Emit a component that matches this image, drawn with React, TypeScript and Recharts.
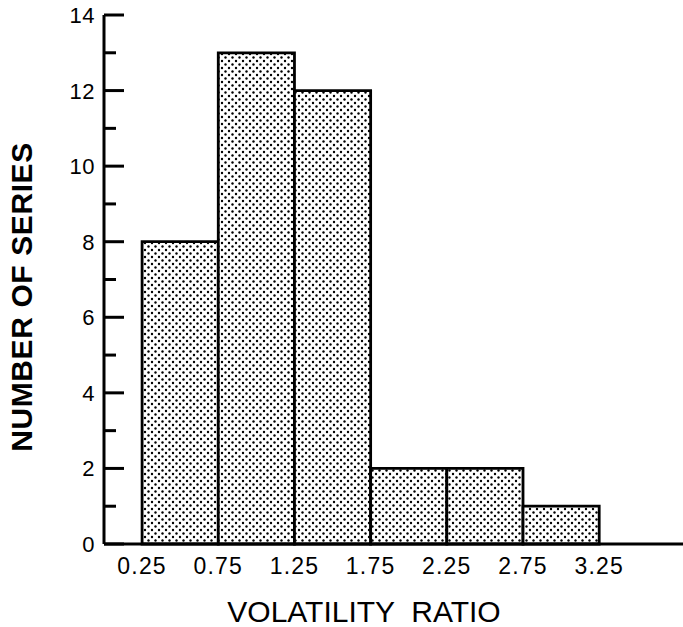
import { ComposedChart, XAxis, YAxis, ReferenceArea, Scatter } from 'recharts'

const binStarts = [0.25, 0.75, 1.25, 1.75, 2.25, 2.75]
const binEnds = [0.75, 1.25, 1.75, 2.25, 2.75, 3.25]
const seriesCounts = [8, 13, 12, 2, 2, 1]
const xTicks = [0.25, 0.75, 1.25, 1.75, 2.25, 2.75, 3.25]
const yTicks = [0, 1, 2, 3, 4, 5, 6, 7, 8, 9, 10, 11, 12, 13, 14]

const font = '"Liberation Sans", Arial, sans-serif'
const data = binStarts.map((x, i) => ({ x, count: seriesCounts[i] }))

function YTick(props: any) {
  const { x, y, payload } = props
  const major = payload.value % 2 === 0
  return (
    <g>
      <line x1={x} x2={x + (major ? 20 : 12)} y1={y} y2={y} stroke="#000" strokeWidth={3} />
      {major && (
        <text x={x - 9} y={y} dy={8} textAnchor="end" fontSize={22} fontFamily={font} fill="#000" letterSpacing={0.5}>
          {payload.value}
        </text>
      )}
    </g>
  )
}

function XTick(props: any) {
  const { x, y, payload } = props
  return (
    <text x={x} y={y + 30} textAnchor="middle" fontSize={23} fontFamily={font} fill="#000" letterSpacing={1.2}>
      {payload.value.toFixed(2)}
    </text>
  )
}

function YTitle() {
  return (
    <text
      x={21}
      y={297}
      transform="rotate(-90 21 297)"
      textAnchor="middle"
      dominantBaseline="central"
      fontSize={30}
      fontWeight="bold"
      fontFamily={font}
      fill="#000"
      letterSpacing={0.6}
    >
      NUMBER OF SERIES
    </text>
  )
}

function XTitle() {
  return (
    <text x={364} y={622} textAnchor="middle" fontSize={30} fontFamily={font} fill="#000" style={{ whiteSpace: 'pre' }}>
      VOLATILITY  RATIO
    </text>
  )
}

export default function App() {
  return (
    <div style={{ position: 'absolute', left: 0, top: 0, background: '#fff' }}>
      <ComposedChart
        width={683}
        height={627}
        data={data}
        margin={{ top: 15, right: 0, bottom: 0, left: 0 }}
      >
        <defs>
          <pattern id="dots" width="7" height="7" patternUnits="userSpaceOnUse">
            <rect width="7" height="7" fill="#fff" />
            <circle cx="1.5" cy="1.5" r="1.2" fill="#000" />
            <circle cx="5" cy="5" r="1.2" fill="#000" />
          </pattern>
        </defs>
        <XAxis
          dataKey="x"
          type="number"
          domain={[0, 3.8]}
          ticks={xTicks}
          tickLine={false}
          tickSize={0}
          tickMargin={0}
          height={83}
          axisLine={{ stroke: '#000', strokeWidth: 3 }}
          tick={<XTick />}
          label={{ content: <XTitle /> }}
        />
        <YAxis
          type="number"
          domain={[0, 14]}
          ticks={yTicks}
          interval={0}
          width={104}
          tickLine={false}
          tickSize={0}
          tickMargin={0}
          axisLine={{ stroke: '#000', strokeWidth: 3 }}
          tick={<YTick />}
          label={{ content: <YTitle /> }}
        />
        <Scatter dataKey="count" isAnimationActive={false} shape={() => <g />} />
        {binStarts.map((s, i) => (
          <ReferenceArea
            key={s}
            x1={s}
            x2={binEnds[i]}
            y1={0}
            y2={seriesCounts[i]}
            fill="url(#dots)"
            fillOpacity={1}
            stroke="#000"
            strokeWidth={2.8}
            ifOverflow="visible"
          />
        ))}
      </ComposedChart>
    </div>
  )
}
